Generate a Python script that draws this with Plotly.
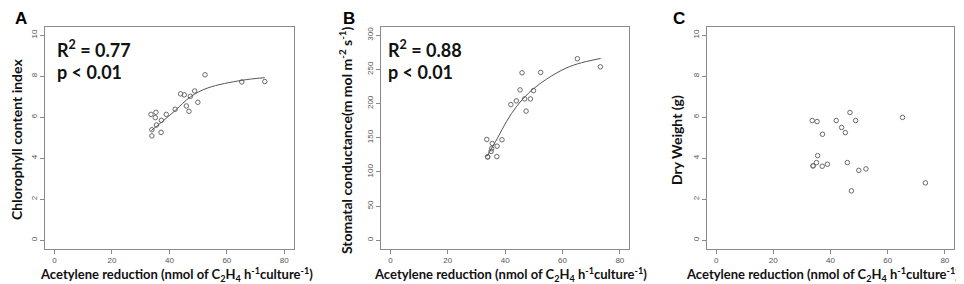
import plotly.graph_objects as go

# Shared x values: acetylene reduction (nmol C2H4 h-1 culture-1)
acetylene = [33.6, 33.9, 33.9, 35.1, 35.3, 35.5, 37.1, 37.2, 38.9, 42.0,
             43.9, 45.2, 45.9, 46.8, 47.3, 48.8, 49.9, 52.4, 65.2, 73.2]
# Panel A: chlorophyll content index
chlorophyll = [6.14, 5.39, 5.09, 5.98, 6.24, 5.62, 5.26, 5.85, 6.14, 6.39,
               7.14, 7.09, 6.55, 6.29, 7.02, 7.28, 6.73, 8.07, 7.72, 7.74]
# Panel B: stomatal conductance
stomatal = [147.5, 122, 122, 130, 134, 141.6, 122.5, 137.7, 147, 198.5,
            203.9, 220, 245, 206.8, 189, 206.8, 219, 245.6, 265.6, 253.8]
# Panel C: dry weight
dry_weight = [5.84, 3.63, 3.63, 3.79, 5.79, 4.13, 3.61, 5.17, 3.71, 5.84,
              5.50, 5.25, 3.79, 6.23, 2.41, 5.84, 3.41, 3.48, 5.99, 2.80]

# Fitted trend curves
fit_a_x = [33.7, 37.3, 42.1, 47.3, 53.4, 65.2, 73.2]
fit_a_y = [5.35, 5.76, 6.34, 6.99, 7.43, 7.80, 7.93]
fit_b_x = [33.6, 37.4, 40.5, 44.0, 48.1, 52.8, 59.8, 65.2, 73.3]
fit_b_y = [122.5, 150, 174, 196, 215, 231, 249, 258, 266]

x_ticks = [0, 20, 40, 60, 80]
ya_ticks = [0, 2, 4, 6, 8, 10]
yb_ticks = [0, 50, 100, 150, 200, 250, 300]
yc_ticks = [0, 2, 4, 6, 8, 10]

panel_labels = ["A", "B", "C"]
y_titles = ["Chlorophyll content index",
            "Stomatal conductance(m mol m<sup>-2</sup> s<sup>-1</sup>)",
            "Dry Weight (g)"]
x_title = "Acetylene reduction (nmol of C<sub>2</sub>H<sub>4</sub> h<sup>-1</sup>culture<sup>-1</sup>)"
stats_a = ["R<sup>2</sup> = 0.77", "p < 0.01"]
stats_b = ["R<sup>2</sup> = 0.88", "p < 0.01"]

W, H = 964, 284
boxes = [(37.3, 285.5), (373.3, 621.0), (699.0, 946.0)]
top_px, bot_px = 19.0, 240.5
ydom = [1 - bot_px / H, 1 - top_px / H]

fig = go.Figure()

axis_gray = "#8a8a8a"
tick_font = dict(family="Liberation Sans, Arial", size=8, color="#555555")
title_font = dict(family="Lato, Carlito, sans-serif", size=14, color="#111111")
xtitle_font = dict(family="Lato, Carlito, sans-serif", size=13, color="#111111")

ys = [chlorophyll, stomatal, dry_weight]
fits = [(fit_a_x, fit_a_y), (fit_b_x, fit_b_y), None]
yticks = [ya_ticks, yb_ticks, yc_ticks]
yranges = [[-0.4, 10.4], [-12, 312], [-0.4, 10.4]]

for i in range(3):
    xa = "x" if i == 0 else f"x{i+1}"
    ya = "y" if i == 0 else f"y{i+1}"
    fig.add_trace(go.Scatter(
        x=acetylene, y=ys[i], mode="markers", xaxis=xa, yaxis=ya,
        marker=dict(symbol="circle-open", size=4.5, color="#6a6a6a",
                    line=dict(width=1, color="#6a6a6a")),
        showlegend=False, hoverinfo="x+y"))
    if fits[i] is not None:
        fig.add_trace(go.Scatter(
            x=fits[i][0], y=fits[i][1], mode="lines", xaxis=xa, yaxis=ya,
            line=dict(color="#555555", width=1, shape="spline", smoothing=1),
            showlegend=False, hoverinfo="skip"))
    l, r = boxes[i]
    common = dict(showline=True, mirror=True, linecolor=axis_gray, linewidth=1,
                  ticks="outside", ticklen=4, tickcolor=axis_gray, tickwidth=1,
                  showgrid=False, zeroline=False, tickfont=tick_font)
    fig.layout[f"xaxis{'' if i == 0 else i+1}"] = dict(
        domain=[l / W, r / W], range=[-3.2, 83.2], anchor=ya,
        tickvals=x_ticks, **common)
    fig.layout[f"yaxis{'' if i == 0 else i+1}"] = dict(
        domain=ydom, range=yranges[i], anchor=xa, tickvals=yticks[i],
        tickangle=-90, **common)

xtitle_cx = [168, 502, 814]
for i in range(3):
    fig.add_annotation(x=xtitle_cx[i] / W, y=1 - 266 / H, xref="paper",
                       yref="paper", text=f"<b>{x_title}</b>", showarrow=False,
                       font=xtitle_font, xanchor="center", yanchor="middle")

ytitle_x = [8, 337, 668]
for i in range(3):
    fig.add_annotation(x=ytitle_x[i] / W, y=1 - 132 / H, xref="paper",
                       yref="paper", text=f"<b>{y_titles[i]}</b>",
                       showarrow=False, font=title_font, textangle=-90,
                       xanchor="center", yanchor="middle")

label_x = [5, 333, 663]
for i in range(3):
    fig.add_annotation(x=label_x[i] / W, y=1 - 11 / H, xref="paper",
                       yref="paper", text=f"<b>{panel_labels[i]}</b>",
                       showarrow=False,
                       font=dict(family="Liberation Sans, Arial", size=17,
                                 color="#000000"),
                       xanchor="left", yanchor="middle")

stat_font = dict(family="Lato, Carlito, sans-serif", size=18, color="#111111")
for (sx, lines) in [(47, stats_a), (378, stats_b)]:
    for j, t in enumerate(lines):
        fig.add_annotation(x=sx / W, y=1 - (41 + 23 * j) / H, xref="paper",
                           yref="paper", text=f"<b>{t}</b>", showarrow=False,
                           font=stat_font, xanchor="left", yanchor="middle")

fig.update_layout(width=W, height=H, margin=dict(l=0, r=0, t=0, b=0),
                  paper_bgcolor="white", plot_bgcolor="white")

fig.write_html("out.html")
